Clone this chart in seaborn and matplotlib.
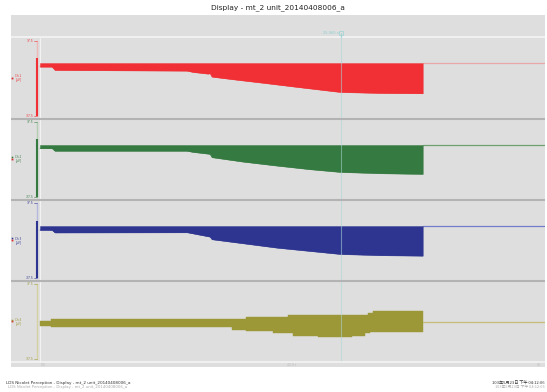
import numpy as np
import pandas as pd
import matplotlib
matplotlib.use("Agg")
import matplotlib.pyplot as plt
import seaborn as sns

sns.set_style("white")
plt.rcParams['font.family'] = ['DejaVu Sans', 'Noto Sans CJK TC']

# ---------------- data ----------------
title = "Display - mt_2 unit_20140408006_a"
footer_left = "LDS Nicolet Perception - Display - mt_2 unit_20140408006_a"
footer_right = "103年5月23日 下午 04:12:06"

x_ticks = [10, 20, 30, 40]           # time ticks (s)
t_start = 1.05                       # signal start (s)
t_end = 32.76                        # signal end (s)
t_cursor = 25.97                     # cursor position (s)
t_spike = 0.80                       # stimulus artefact (s)
t_axis = 0.845                       # channel axis position
cursor_label = "25.965 s"
bottom_labels = ["0.0", "42.9 s", "43"]

channels = ["Ch 1", "Ch 2", "Ch 3", "Ch 4"]
colors = ["#f03035", "#357a40", "#2d3590", "#9c9838"]
pale_line = ["#e8a8a8", "#6f9f6f", "#737bcc", "#c6bd78"]
pale_axis = ["#efb8b8", "#b3cdb3", "#b4b8de", "#d6d1a0"]
tick_top = ["37.5", "37.5", "37.5", "37.5"]
tick_bottom = ["-37.5", "-37.5", "-37.5", "-37.5"]

baselines = [15.1, 14.4, 14.6, -0.4]
spike_top = [20.1, 20.4, 19.6]
spike_bottom = [-37.9, -37.6, -37.4]

red_t = [1.05, 2.05, 2.29, 13.23, 13.72, 14.97, 15.14, 15.30, 17.04, 19.86, 22.59, 25.91, 29.22, 32.76]
red_env = [11.4, 11.4, 8.1, 7.4, 6.1, 4.4, 4.9, 1.4, -1.2, -5.2, -9.2, -13.9, -14.9, -15.2]

green_t = [1.05, 2.05, 2.29, 13.23, 13.72, 15.14, 15.30, 17.87, 20.69, 23.42, 25.91, 29.22, 32.76]
green_env = [11.1, 11.1, 8.5, 8.5, 7.4, 5.4, 2.1, -2.3, -6.3, -9.9, -12.6, -13.9, -14.6]

blue_t = [1.05, 2.05, 2.29, 13.23, 15.14, 15.30, 17.87, 20.69, 23.42, 25.91, 29.22, 32.76]
blue_env = [10.6, 10.6, 8.1, 8.3, 3.9, 1.3, -2.7, -7.1, -10.4, -13.4, -14.6, -15.1]

olive_t = [1.05, 1.96, 16.96, 18.12, 20.36, 21.60, 22.01, 24.08, 26.90, 27.98, 28.23, 28.39, 28.64, 32.78]
olive_top = [1.2, 3.1, 3.1, 5.2, 5.2, 7.0, 7.0, 7.0, 7.0, 7.0, 9.2, 9.2, 10.6, 10.6]
olive_bottom = [-4.1, -5.6, -8.1, -8.8, -11.4, -11.4, -13.8, -15.1, -13.8, -11.4, -11.4, -9.8, -9.8, -9.8]

# ---------------- layout helpers ----------------
W, H = 547, 392
XL = (-1.35, 42.89)
YL = (-40.625, 40.625)
BG = "#dedede"


def fx(px):
    return px / W


def fy(py):
    return 1 - py / H


def px2t(px):
    return XL[0] + (px - 11) / 534 * (XL[1] - XL[0])


fig = plt.figure(figsize=(W / 100, H / 100), dpi=100)
fig.patch.set_facecolor("white")

bg = fig.add_axes([fx(11), fy(367), 534 / W, (367 - 15) / H])
bg.set_facecolor(BG)
bg.set_xlim(XL)
bg.set_ylim(367, 15)
bg.set_xticks([])
bg.set_yticks([])
for s in bg.spines.values():
    s.set_visible(False)

panel_h = 81.25
axes = []
for i in range(4):
    top_px = 37.5 + i * panel_h
    ax = fig.add_axes([fx(11), fy(top_px + panel_h), 534 / W, panel_h / H])
    ax.set_facecolor("none")
    ax.set_xlim(XL)
    ax.set_ylim(YL)
    ax.set_xticks([])
    ax.set_yticks([])
    for s in ax.spines.values():
        s.set_visible(False)
    axes.append(ax)

envs = [(red_t, red_env), (green_t, green_env), (blue_t, blue_env)]
for i, ax in enumerate(axes):
    c = colors[i]
    # channel axis line
    ax.plot([t_axis, t_axis], [-37.5, 37.5], color=pale_axis[i], lw=1.0, zorder=1)
    ax.plot([t_axis + 0.18, t_axis + 0.18], list(YL), color="#f2f2f2", lw=0.8, zorder=1)
    # tick labels
    ax.text(t_axis - 0.35, 37.5, tick_top[i], color=c, fontsize=2.2, ha="right", va="center")
    ax.text(t_axis - 0.35, -37.5, tick_bottom[i], color=c, fontsize=2.2, ha="right", va="center")
    ax.plot([t_axis - 0.3, t_axis], [37.5, 37.5], color=c, lw=0.4)
    ax.plot([t_axis - 0.3, t_axis], [-37.5, -37.5], color=c, lw=0.4)
    # channel label
    ax.plot([px2t(12.5)], [0.5], marker="s", ms=1.3, color="#e03030", mew=0)
    if i > 0:
        ax.plot([px2t(12.5)], [2.3], marker="s", ms=1.1, color=c, mew=0)
    ax.text(px2t(15.5), 0, channels[i] + "\n[µV]", color=c, fontsize=2.0,
            ha="left", va="center", linespacing=1.0)
    # continuation line after signal end
    df_line = pd.DataFrame({"t": [t_end, XL[1]], "v": [baselines[i], baselines[i]]})
    sns.lineplot(data=df_line, x="t", y="v", ax=ax, color=pale_line[i], lw=0.9, zorder=2)
    if i < 3:
        t_arr, e_arr = envs[i]
        base = np.full(len(t_arr), baselines[i])
        ax.fill_between(t_arr, base, e_arr, color=c, lw=0.3, edgecolor=c, zorder=3)
        df_env = pd.DataFrame({"t": t_arr, "v": e_arr})
        sns.lineplot(data=df_env, x="t", y="v", ax=ax, color=c, lw=0.5, zorder=3)
        ax.plot([t_spike, t_spike], [spike_bottom[i], spike_top[i]], color=c, lw=1.5,
                solid_capstyle="butt", zorder=4)
    else:
        ax.fill_between(olive_t, olive_bottom, olive_top, step="post", color=c,
                        lw=0.3, edgecolor=c, zorder=3)
    ax.axvline(t_cursor, color="#a9d6d6", lw=0.8, alpha=0.55, zorder=6)
    ax.set_xlabel("")
    ax.set_ylabel("")

# bottom time ticks
ax4 = axes[3]
ax4.set_xticks(x_ticks)
ax4.set_xticklabels([])
ax4.tick_params(axis="x", direction="out", length=2, width=0.6, color="white", pad=0)

# overlay structure
ov = fig.add_axes(bg.get_position())
ov.set_facecolor("none")
ov.set_xlim(XL)
ov.set_ylim(367, 15)
ov.set_xticks([])
ov.set_yticks([])
for s in ov.spines.values():
    s.set_visible(False)
ov.axhline(37.5, color="#f4f4f4", lw=1.2)
ov.axhline(362.5, color="#f4f4f4", lw=1.2)
for yb in [37.5 + panel_h, 37.5 + 2 * panel_h, 37.5 + 3 * panel_h]:
    ov.axhline(yb, color="#b3b3b3", lw=1.5)
ov.plot([t_cursor, t_cursor], [33, 37.5], color="#a9d6d6", lw=0.9)
ov.text(t_cursor - 0.2, 33, cursor_label, color="#8ccfd0", fontsize=2.6, ha="right", va="center")
ov.plot([t_cursor + 0.05], [33], marker="s", ms=2.2, mfc="none", mec="#8ccfd0", mew=0.4)
ov.text(px2t(43), 365, bottom_labels[0], color="#bbbbbb", fontsize=2.2, ha="center", va="center")
ov.text(px2t(291.6), 365, bottom_labels[1], color="#bbbbbb", fontsize=2.2, ha="center", va="center")
ov.text(px2t(539), 365, bottom_labels[2], color="#bbbbbb", fontsize=2.2, ha="center", va="center")

# title and footer
fig.text(fx(277.5), fy(8), title, fontsize=5.3, ha="center", va="center", color="#222222")
fig.text(fx(6), fy(383), footer_left, fontsize=3.0, ha="left", va="center", color="#333333")
fig.text(fx(8), fy(387), footer_left, fontsize=2.8, ha="left", va="center", color="#aaaaaa")
fig.text(fx(545), fy(383), footer_right, fontsize=3.0, ha="right", va="center", color="#333333",
         family=['Noto Sans CJK TC', 'DejaVu Sans'])
fig.text(fx(545), fy(387), footer_right, fontsize=2.8, ha="right", va="center", color="#aaaaaa",
         family=['Noto Sans CJK TC', 'DejaVu Sans'])

fig.savefig("out.png", dpi=100, facecolor="white")
